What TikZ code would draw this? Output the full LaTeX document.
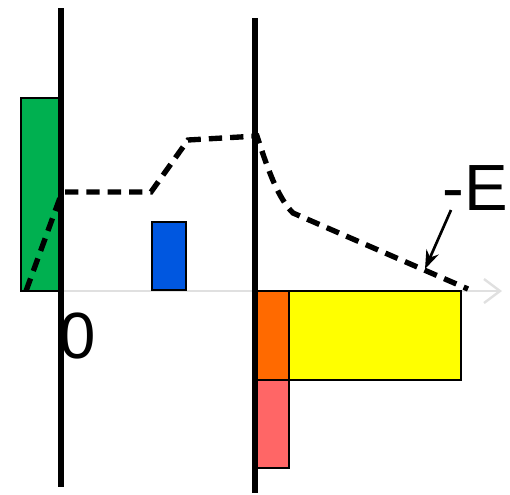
\documentclass[tikz,border=0pt]{standalone}
\usepackage{fontspec}
\setmainfont{Liberation Sans}
\usetikzlibrary{arrows.meta}
\definecolor{cgreen}{HTML}{00B050}
\definecolor{cblue}{HTML}{0057E0}
\definecolor{corange}{HTML}{FF6A00}
\definecolor{cyellow}{HTML}{FFFF00}
\definecolor{cpink}{HTML}{FF6666}
\definecolor{caxis}{HTML}{E0E0E0}
\tikzset{
  bar/.style={draw=black, line width=2pt},
  wall/.style={draw=black, line width=4.4pt},
  profile/.style={draw=black, line width=4pt, dash pattern=on 10pt off 6pt},
  lbl/.style={inner sep=0pt, font=\fontsize{49}{49}\selectfont, anchor=base}
}
\begin{document}
\begin{tikzpicture}[x=0.75pt, y=-0.75pt]
\useasboundingbox (0,0) rectangle (510,494);
% axis
\coordinate (ax0) at (20,291);
\coordinate (ax1) at (502,291);
\draw[caxis, line width=1.8pt, -{Straight Barb[length=12pt,width=18pt]}] (ax0) -- (ax1);
% bars
\draw[bar, fill=cgreen] (21,98) rectangle (59,291);
\draw[bar, fill=cblue] (152,222) rectangle (186,290);
\draw[bar, fill=corange] (256,291) rectangle (289,380);
\draw[bar, fill=cyellow] (289,291) rectangle (461,380);
\draw[bar, fill=cpink] (256,380) rectangle (289,468);
% walls
\coordinate (w1a) at (61,8);
\coordinate (w1b) at (61,487);
\coordinate (w2a) at (255,18);
\coordinate (w2b) at (255,493);
\draw[wall] (w1a) -- (w1b);
\draw[wall] (w2a) -- (w2b);
% dashed profile
\coordinate (p0) at (26,291);
\coordinate (p1) at (61,195);
\coordinate (p2) at (65,192);
\coordinate (p3) at (151,192);
\coordinate (p4) at (188,140);
\coordinate (p5) at (257,136);
\coordinate (p6) at (293,213);
\coordinate (p7) at (468,289);
\draw[profile] (p0) -- (p1);
\draw[profile] (p2) -- (p3) -- (p4) -- (p5) .. controls (268,170) and (278,198) .. (p6) -- (p7);
% labels
\node[lbl] (zero) at (78,358) {0};
\node[lbl] (E) at (475.5,210) {-E};
\coordinate (ea) at (451,210);
\coordinate (eb) at (425,269);
\draw[black, line width=2pt, -{Stealth[length=14pt,width=10pt]}] (ea) -- (eb);
\end{tikzpicture}
\end{document}
